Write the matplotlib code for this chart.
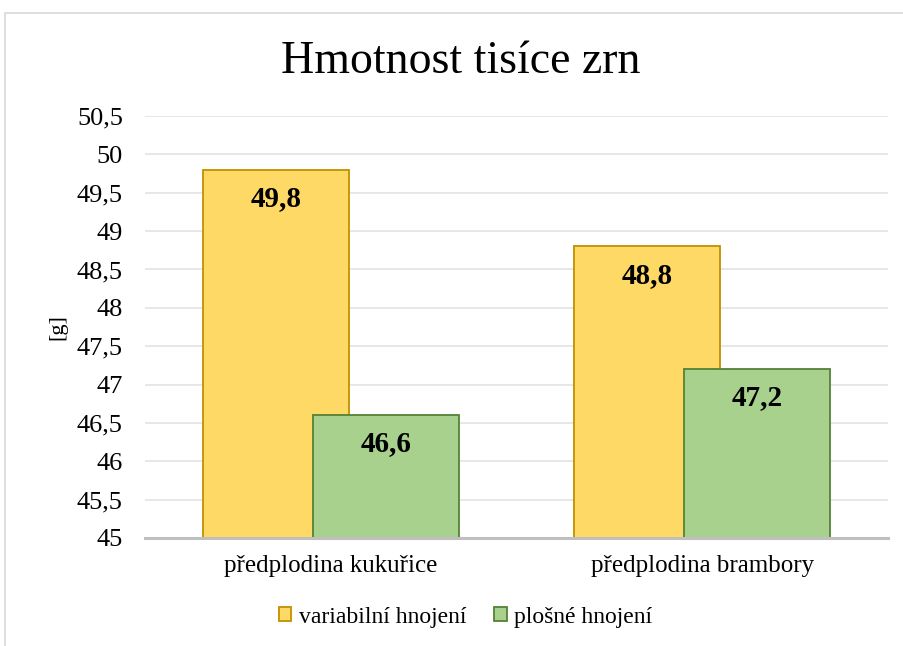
import matplotlib
matplotlib.use('Agg')
import matplotlib.pyplot as plt
from matplotlib.patches import Rectangle
import numpy as np

categories = ['předplodina kukuřice', 'předplodina brambory']
series_names = ['variabilní hnojení', 'plošné hnojení']
variabilni = [49.8, 48.8]
plosne = [46.6, 47.2]
yticks = [45, 45.5, 46, 46.5, 47, 47.5, 48, 48.5, 49, 49.5, 50, 50.5]


def fmt(v):
    s = ('%.1f' % v).rstrip('0').rstrip('.')
    return s.replace('.', ',')


plt.rcParams['font.family'] = ['Liberation Serif', 'DejaVu Serif']

fig = plt.figure(figsize=(9.04, 6.46), dpi=100)
ax = fig.add_axes([145 / 904, 1 - 538 / 646, (888 - 145) / 904, (538 - 116) / 646])

# outer chart frame (cut off at right/bottom)
fig.add_artist(Rectangle((5 / 904, -0.05), 1.2, 0.05 + (646 - 13) / 646,
                         transform=fig.transFigure, fill=False,
                         edgecolor='#d9d9d9', linewidth=1.2))

x = np.arange(len(categories))
width = 0.393
off = 0.148
colors = [('#ffd966', '#bf9000'), ('#a9d18e', '#548235')]

for i, (vals, (fc, ec)) in enumerate(zip([variabilni, plosne], colors)):
    pos = x + (-off if i == 0 else off)
    ax.bar(pos, np.array(vals) - 45, width, bottom=45, color=fc,
           edgecolor=ec, linewidth=1.3, label=series_names[i], zorder=3 + i)
    for p, v in zip(pos, vals):
        ax.annotate(fmt(v), (p, v), xytext=(0, -11), textcoords='offset points',
                    ha='center', va='top', fontsize=21, fontweight='bold',
                    zorder=10)

ax.set_xlim(-0.5, 1.5)
ax.set_ylim(45, 50.5)
ax.set_yticks(yticks)
ax.set_yticklabels([fmt(v) for v in yticks], fontsize=19)
ax.set_xticks(x)
ax.set_xticklabels(categories, fontsize=18)
ax.tick_params(axis='both', length=0)
ax.tick_params(axis='y', pad=16)
ax.tick_params(axis='x', pad=12)
ax.grid(axis='y', color='#e3e3e3', linewidth=1.2, zorder=0)
for s in ['top', 'right', 'left']:
    ax.spines[s].set_visible(False)
ax.spines['bottom'].set_color('#bfbfbf')
ax.spines['bottom'].set_linewidth(2.2)
ax.spines['bottom'].set_zorder(6)

ax.set_ylabel('[g]', fontsize=16)
ax.yaxis.set_label_coords(-0.104, 0.5)

fig.text(0.51, 1 - 62 / 646, 'Hmotnost tisíce zrn', fontsize=33,
         ha='center', va='center')

fig.legend(loc='center', bbox_to_anchor=(0.515, 1 - 617 / 646), ncol=2,
           frameon=False, fontsize=17, handlelength=0.55, handleheight=0.55,
           handletextpad=0.3, columnspacing=1.2)

fig.savefig('out.png', dpi=100)
